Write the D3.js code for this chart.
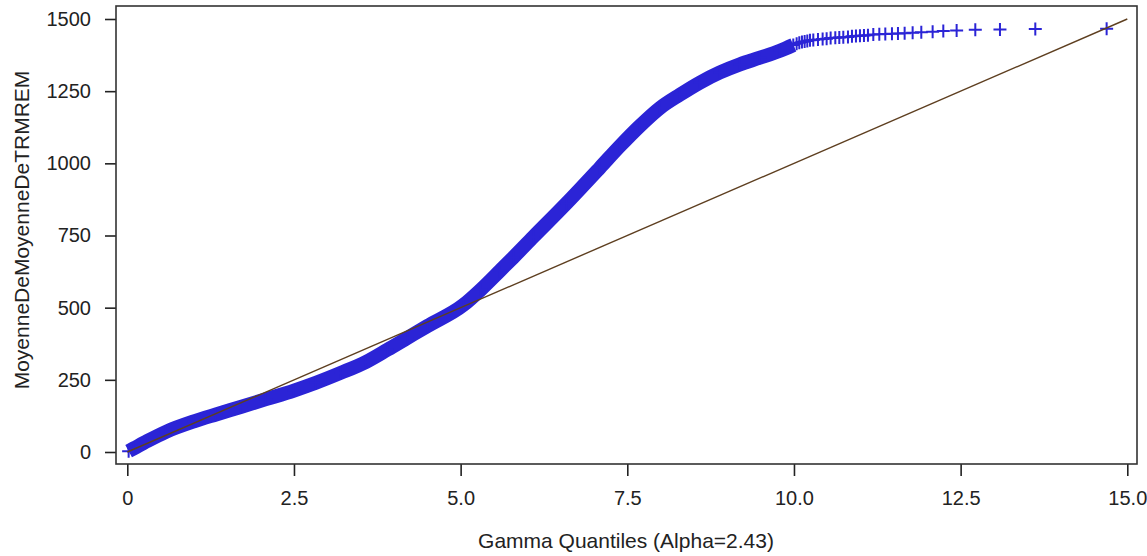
<!DOCTYPE html>
<html>
<head>
<meta charset="utf-8">
<script src="https://cdn.jsdelivr.net/npm/d3@7"></script>
<style>
  body { margin: 0; background: #fff; }
  svg { display: block; }
  .axis text { font-family: 'Liberation Sans', Arial, sans-serif; font-size: 20px; fill: #222; }
  .axis line { stroke: #222; stroke-width: 1.6; }
  .axis path { display: none; }
  .label { font-family: 'Liberation Sans', Arial, sans-serif; font-size: 21px; fill: #222; }
</style>
</head>
<body>
<div id="chart"></div>
<script>
var bandQ = [0.02, 0.1, 0.3, 0.58, 1.0, 1.33, 1.7, 2.08, 2.5, 2.83, 3.2, 3.58, 3.9, 4.2, 4.5, 5.04, 5.3, 5.59, 5.79, 6.09, 6.59, 7.09, 7.39, 7.69, 7.99, 8.29, 8.59, 8.89, 9.19, 9.49, 9.79, 9.99];
var bandV = [3, 13, 38, 70, 106, 130, 156, 183, 213, 240, 274, 312, 354, 395, 436, 509, 562, 628, 674, 745, 862, 985, 1060, 1130, 1192, 1238, 1280, 1315, 1343, 1366, 1390, 1410];

// the sparse upper tail, one cross per observation
var tailQ = [10.04, 10.08, 10.12, 10.16, 10.2, 10.24, 10.29, 10.36, 10.43, 10.49, 10.55, 10.62, 10.68, 10.74, 10.81, 10.87, 10.93, 10.99, 11.05, 11.11, 11.19, 11.28, 11.37, 11.47, 11.56, 11.66, 11.78, 11.91, 12.08, 12.24, 12.44, 12.72, 13.09, 13.62, 14.69];
var tailV = [1414, 1418, 1420, 1422, 1424, 1426, 1427, 1429, 1431, 1432, 1434, 1435, 1436, 1437, 1438, 1440, 1441, 1442, 1443, 1444, 1446, 1447, 1448, 1449, 1450, 1451, 1452, 1454, 1456, 1458, 1460, 1463, 1464, 1465, 1466];

// reference line end points
var refQ = [0, 15];
var refV = [0, 1500];

var xTicks = [0, 2.5, 5, 7.5, 10, 12.5, 15];
var xTickLabels = ['0', '2.5', '5.0', '7.5', '10.0', '12.5', '15.0'];
var yTicks = [0, 250, 500, 750, 1000, 1250, 1500];

var xTitle = 'Gamma Quantiles (Alpha=2.43)';
var yTitle = 'MoyenneDeMoyenneDeTRMREM';

var W = 1147, H = 556;
var frame = { left: 116, top: 6, right: 1137, bottom: 464 }; // plot box
var blue = '#2b24d6';

var band = bandQ.map(function (q, i) { return { q: q, v: bandV[i] }; });
var tail = tailQ.map(function (q, i) { return { q: q, v: tailV[i] }; });
var ref = refQ.map(function (q, i) { return { q: q, v: refV[i] }; });

var svg = d3.select('#chart').append('svg')
  .attr('width', W)
  .attr('height', H);

var x = d3.scaleLinear().domain([0, 15]).range([127.3, 1127.3]);
var y = d3.scaleLinear().domain([0, 1500]).range([452, 19]);

function translation(a, b) {
  return 'translate(' + a + ',' + b + ')';
}

// axes
svg.append('g')
  .attr('class', 'axis y')
  .attr('transform', translation(frame.left, 0))
  .call(d3.axisLeft(y).tickValues(yTicks).tickSize(11).tickPadding(14).tickFormat(d3.format('d')));

svg.append('g')
  .attr('class', 'axis x')
  .attr('transform', translation(0, frame.bottom))
  .call(d3.axisBottom(x).tickValues(xTicks).tickSize(12).tickPadding(15)
    .tickFormat(function (d, i) { return xTickLabels[i]; }));

// the dense part: thousands of overlapping crosses, drawn as a thick stroke
var line = d3.line()
  .x(function (d) { return x(d.q); })
  .y(function (d) { return y(d.v); })
  .curve(d3.curveMonotoneX);

svg.append('path')
  .datum(band)
  .attr('d', line)
  .attr('fill', 'none')
  .attr('stroke', blue)
  .attr('stroke-width', 14);

var cross = 'M-6.5,0H6.5M0,-6.5V6.5';

svg.selectAll('.mark')
  .data(band.concat(tail))
  .enter().append('path')
  .attr('class', 'mark')
  .attr('transform', function (d) { return translation(x(d.q), y(d.v)); })
  .attr('d', cross)
  .attr('fill', 'none')
  .attr('stroke', blue)
  .attr('stroke-width', 2);

// reference line
svg.append('path')
  .datum(ref)
  .attr('d', d3.line().x(function (d) { return x(d.q); }).y(function (d) { return y(d.v); }))
  .attr('fill', 'none')
  .attr('stroke', '#5e3f20')
  .attr('stroke-width', 1.4);

// plot frame
svg.append('rect')
  .attr('x', frame.left)
  .attr('y', frame.top)
  .attr('width', frame.right - frame.left)
  .attr('height', frame.bottom - frame.top)
  .attr('fill', 'none')
  .attr('stroke', '#333')
  .attr('stroke-width', 1.6);

// titles
svg.append('text')
  .attr('class', 'label')
  .attr('x', 626)
  .attr('y', 548)
  .attr('text-anchor', 'middle')
  .text(xTitle);

svg.append('text')
  .attr('class', 'label')
  .attr('transform', translation(29, 230) + ' rotate(-90)')
  .attr('text-anchor', 'middle')
  .text(yTitle);
</script>
</body>
</html>
